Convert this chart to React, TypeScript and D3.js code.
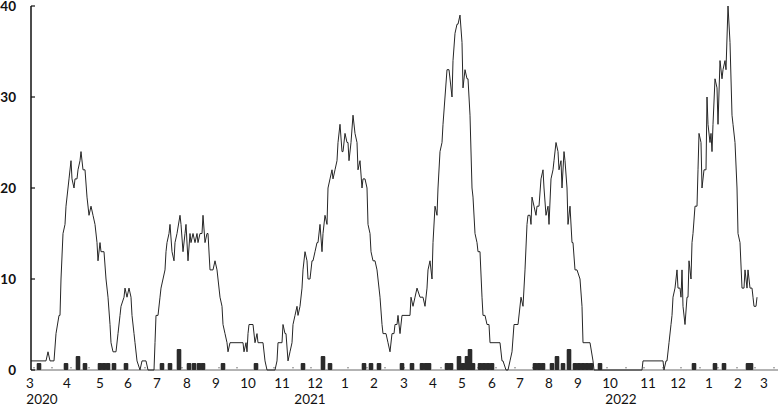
import React from "react";
import * as d3 from "d3";

// daily series: day offset from 2020-03-01 and value
const lineDays = [
  0, 15, 17, 19, 23, 25, 28, 29, 30, 32, 34, 35, 37, 38, 40, 41, 43, 44, 46, 47, 49, 50, 52, 54, 56, 58, 60, 62, 64, 66, 67, 69, 70, 73, 75, 77, 79, 80, 82, 85, 87, 89, 90, 93, 94, 96, 98, 100, 101, 103, 104, 106, 109, 111, 115, 117, 123,
  124, 125, 127, 129, 130, 132, 134, 135, 136, 138, 139, 141, 143, 144, 146, 149, 150, 152, 154, 155, 157, 159, 160, 162, 164, 166, 167, 169, 171, 172, 174, 176, 177, 179, 182, 184, 186, 187, 189, 191, 192, 194, 196, 197, 199, 212, 213, 215, 216, 217, 218, 222, 224, 226, 227, 232, 234, 236, 244, 246, 247, 251, 252, 254, 255, 257, 259, 261, 262, 264, 266, 267, 269, 271, 272, 274, 276, 277, 279, 281, 282, 284, 286, 287, 289, 291, 292, 294, 296, 297, 299, 301, 302, 304, 306, 307, 309, 311, 312, 314, 316, 317, 318, 320, 322, 324, 326, 327, 329, 331, 332, 334, 336, 337, 339, 340, 342, 344, 346, 347, 349, 351, 352, 355, 357, 359, 361, 363, 364, 366, 367, 369, 371, 379, 380, 382, 384, 386, 389, 392, 394, 396, 397, 399, 401, 402, 404, 406, 407, 409, 411, 412, 414, 416, 418, 421, 422, 424, 426, 427, 429, 431, 432, 434, 436, 437, 439, 441, 442, 444, 446, 447, 449, 451, 452, 454, 456, 458, 459, 469, 471, 472, 475, 477, 479, 481, 483, 487, 490, 492, 494, 496, 497, 499, 500, 501, 503, 505, 506, 508, 510, 512, 513, 515, 517, 518, 520, 522, 523, 525, 527, 528, 530, 531, 533, 534, 536, 537, 539, 541, 542, 544, 546, 549, 551, 552, 559, 562, 563, 611, 612, 632, 633, 635, 636, 638, 640, 641, 642, 644, 646, 647, 649, 650, 651, 652, 654, 656, 657, 658, 660, 661, 662, 664, 666, 667, 668, 670, 671, 673, 675, 676, 677, 679, 680, 681, 682, 684, 686, 687, 689, 691, 692, 694, 695, 697, 699, 701, 702, 704, 706, 707, 709, 711, 713, 714, 716, 717, 719, 721, 722, 723, 725, 726,
];
const lineValues = [
  1, 1, 2, 1, 1, 4, 6, 6, 10, 15, 16, 18, 20, 21, 23, 21, 20, 21, 21, 22, 23, 24, 22, 22, 19, 17, 18, 17, 16, 14, 12, 14, 13, 13, 10, 8, 5, 3, 2, 2, 4, 6, 7, 8, 9, 8, 9, 8, 6, 4, 3, 1, 0, 1, 1, 0, 0,
  3, 6, 6, 8, 9, 10, 11, 13, 14, 15, 16, 13, 12, 14, 15, 17, 16, 13, 15, 16, 12, 15, 14, 15, 14, 15, 14, 15, 15, 17, 14, 15, 15, 11, 11, 12, 11, 10, 8, 7, 5, 4, 3, 2, 3, 3, 2, 3, 2, 4, 5, 5, 3, 4, 3, 3, 1, 0, 0, 1, 3, 3, 5, 4, 4, 1, 2, 3, 5, 6, 7, 6, 7, 9, 11, 13, 12, 10, 10, 12, 12, 13, 14, 14, 16, 13, 15, 17, 16, 20, 21, 22, 21, 22, 23, 25, 27, 24, 24, 26, 25, 25, 23, 25, 28, 26, 25, 22, 23, 20, 21, 21, 20, 16, 15, 13, 12, 12, 11, 10, 8, 5, 4, 4, 3, 2, 4, 4, 5, 5, 6, 4, 6, 6, 8, 7, 8, 9, 8, 8, 7, 9, 11, 12, 10, 14, 18, 17, 20, 24, 25, 27, 30, 33, 33, 30, 34, 37, 38, 38, 39, 36, 31, 33, 32, 32, 28, 20, 19, 15, 14, 13, 13, 8, 6, 6, 5, 5, 3, 3, 1, 1, 0, 0, 1, 2, 5, 5, 8, 7, 11, 16, 17, 17, 16, 19, 18, 17, 18, 18, 21, 22, 20, 17, 18, 16, 21, 22, 23, 25, 24, 22, 23, 20, 24, 23, 20, 16, 18, 14, 14, 11, 11, 10, 7, 3, 3, 1, 0, 0, 1, 1, 0, 1, 1, 3, 5, 6, 8, 9, 11, 9, 9, 8, 11, 7, 5, 8, 8, 12, 10, 14, 15, 18, 18, 22, 26, 25, 20, 22, 22, 30, 27, 25, 26, 24, 27, 32, 31, 27, 34, 32, 33, 34, 33, 40, 36, 28, 27, 25, 20, 15, 14, 9, 9, 11, 9, 11, 9, 9, 8, 7, 7, 8,
];

// daily counts drawn as bars at the foot of the chart
const barDays = [8, 35, 47, 54, 69, 73, 77, 83, 95, 131, 139, 148, 158, 163, 168, 172, 192, 225, 272, 292, 299, 333, 340, 348, 371, 381, 391, 395, 398, 416, 420, 428, 432, 436, 439, 442, 449, 453, 457, 461, 504, 508, 512, 521, 526, 532, 538, 544, 548, 552, 556, 560, 569, 663, 684, 693, 717, 720];
const barValues = [1, 1, 2, 1, 1, 1, 1, 1, 1, 1, 1, 3, 1, 1, 1, 1, 1, 1, 1, 2, 1, 1, 1, 1, 1, 1, 1, 1, 1, 1, 1, 2, 1, 2, 3, 1, 1, 1, 1, 1, 1, 1, 1, 1, 2, 1, 3, 1, 1, 1, 1, 1, 1, 1, 1, 1, 1, 1];

const yTicks = [0, 10, 20, 30, 40];
// month labels and the date each one sits on
const monthLabels = ["3", "4", "5", "6", "7", "8", "9", "10", "11", "12", "1", "2", "3", "4", "5", "6", "7", "8", "9", "10", "11", "12", "1", "2", "3"];
const monthDates = [
  "2020-02-29", "2020-04-06", "2020-05-09", "2020-06-06", "2020-07-05", "2020-08-04", "2020-09-02", "2020-10-04", "2020-11-07", "2020-12-10",
  "2021-01-09", "2021-02-07", "2021-03-09", "2021-04-07", "2021-05-06", "2021-06-05", "2021-07-03", "2021-08-01", "2021-08-30", "2021-10-01",
  "2021-11-08", "2021-12-08", "2022-01-08", "2022-02-06", "2022-03-04",
];
const yearLabels = ["2020", "2021", "2022"];
const yearDates = ["2020-03-12", "2020-12-05", "2021-10-12"];

const start = new Date(2020, 2, 1);
const parse = d3.timeParse("%Y-%m-%d");

const width = 778;
const height = 406;
const font = "Lato, 'Open Sans', sans-serif";

export default function App() {
  const x = d3
    .scaleTime()
    .domain([start, d3.timeDay.offset(start, 733)])
    .range([31, 764]);
  const y = d3.scaleLinear().domain([0, 40]).range([370, 6]);
  const yBar = d3.scaleLinear().domain([0, 52]).range([370, 6]);

  const line = d3
    .line<number>()
    .x((d) => x(d3.timeDay.offset(start, d)))
    .y((_, i) => y(lineValues[i]));

  // small dotted minor marks along the baseline
  const minorDays = d3.range(3, 745, 18.5);

  return (
    <svg
      width={width}
      height={height}
      style={{ position: "absolute", left: 0, top: 0, background: "#fff" }}
      fontFamily={font}
    >
      {/* x axis baseline */}
      <line x1={31} x2={778} y1={y(0)} y2={y(0)} stroke="#9a9a9a" strokeWidth={1.5} />

      {minorDays.map((d, i) => (
        <rect
          key={"m" + i}
          x={x(d3.timeDay.offset(start, d)) - 0.7}
          y={y(0) - 3}
          width={1.4}
          height={1.4}
          fill="#8a8a8a"
        />
      ))}

      {barDays.map((d, i) => {
        const cx = x(d3.timeDay.offset(start, d));
        const top = yBar(barValues[i]);
        return (
          <rect
            key={"b" + i}
            x={cx - 2.3}
            y={top}
            width={4.6}
            height={y(0) - top}
            rx={1}
            fill="#2b2b2b"
          />
        );
      })}

      <path d={line(lineDays) ?? ""} fill="none" stroke="#262626" strokeWidth={1} />

      {/* y axis */}
      <line x1={31} x2={31} y1={y(40)} y2={y(0)} stroke="#111" strokeWidth={1.5} />
      {yTicks.map((t) => (
        <g key={"y" + t}>
          <line x1={31} x2={35} y1={y(t)} y2={y(t)} stroke="#111" strokeWidth={1.2} />
          <text
            x={16}
            y={y(t)}
            dy="0.36em"
            textAnchor="end"
            fontSize={13.5}
            fontWeight="bold"
            fill="#111"
          >
            {t}
          </text>
        </g>
      ))}

      {monthLabels.map((m, i) => (
        <text
          key={"mo" + i}
          x={x(parse(monthDates[i]) as Date)}
          y={388}
          textAnchor="middle"
          fontSize={13.5}
          fill="#111"
        >
          {m}
        </text>
      ))}
      {yearLabels.map((yr, i) => (
        <text
          key={"yr" + i}
          x={x(parse(yearDates[i]) as Date)}
          y={404}
          textAnchor="middle"
          fontSize={13.5}
          fill="#111"
        >
          {yr}
        </text>
      ))}
    </svg>
  );
}
